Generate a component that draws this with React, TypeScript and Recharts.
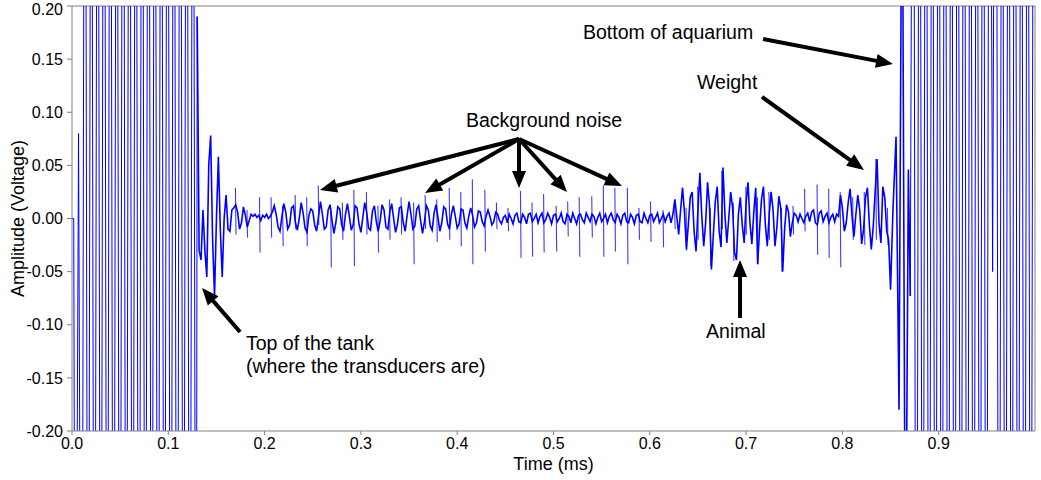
import React from 'react';
import { LineChart, Line, XAxis, YAxis, ReferenceLine, ReferenceDot } from 'recharts';

// axis ticks
const xTicks = [0, 0.1, 0.2, 0.3, 0.4, 0.5, 0.6, 0.7, 0.8, 0.9];
const yTicks = [-0.2, -0.15, -0.1, -0.05, 0, 0.05, 0.1, 0.15, 0.2];

// quiet start before the transmit pulse
const leadTimes = [0, 0.0018];
const leadValues = [0, 0];

// transmit pulse (clipped), sampled every 0.0033 ms from 0.0035 ms
const burstTx = [
  -0.62, 0.08, -0.7, 0.74, -0.72, 0.7, -0.76, 0.72, -0.7, 0.75,
  -0.7, 0.72, -0.74, 0.7, -0.72, 0.76, -0.7, 0.74, -0.72, 0.7,
  -0.74, 0.72, -0.7, 0.75, -0.72, 0.7, -0.74, 0.72, -0.7, 0.74,
  -0.72, 0.7, -0.74, 0.72, -0.7, 0.74, -0.72, 0.7, -0.74,
];

// the echo trace, sampled every 0.002 ms
const echoTopTank = [ // from 0.130 ms
  0.19, -0.03, -0.039, 0.008, -0.03, -0.055, 0.05, 0.078, -0.02, -0.073,
  0.0, 0.058, -0.01, -0.055, 0.0, 0.022, -0.01, -0.012, 0.008, 0.01,
];
const noiseEarly = [ // from 0.170 ms
  0.013, 0.006, -0.01, -0.004, 0.011, 0.003, -0.008, -0.002, 0.004, 0.002,
  0.004, 0.001, 0.003, -0.002, 0.003, 0.001, 0.004, 0.0, 0.002, 0.006,
  0.012, 0.004, -0.008, -0.012, 0.002, 0.014, 0.006, -0.01, -0.006, 0.01,
  0.012, -0.004, -0.011, 0.0, 0.015, 0.005, -0.009, -0.013, 0.003, 0.009,
  0.007, -0.006, -0.012, 0.002, 0.016, 0.004, -0.01, -0.008, 0.008, 0.013,
  -0.002, -0.014, -0.004, 0.011, 0.009, -0.006, -0.012, 0.004, 0.014, 0.002,
  -0.011, -0.006, 0.012, 0.01, -0.005, -0.013, 0.001, 0.015, 0.006, -0.009,
  -0.011, 0.007, 0.012, -0.003, -0.012, -0.002, 0.013, 0.008, -0.008, -0.01,
  0.006, 0.014, 0.0, -0.013, -0.005, 0.01, 0.011, -0.004, -0.012, 0.003,
  0.016, 0.004, -0.01, -0.007, 0.009, 0.012, -0.002, -0.014, -0.003, 0.012,
  0.008, -0.007, -0.011, 0.005, 0.013, 0.001, -0.012, -0.004, 0.011, 0.009,
  -0.005, -0.01, 0.004, 0.012, 0.002, -0.009, -0.005, 0.009, 0.008, -0.004,
  -0.009, 0.002, 0.01, 0.003, -0.008, -0.004, 0.007, 0.006, -0.003, -0.007,
  0.002, 0.008, 0.002, -0.006, -0.003, 0.006, 0.004, -0.002, -0.005, 0.001,
];
const noiseQuiet = [ // from 0.450 ms
  0.003, -0.004, 0.004, 0.0, -0.005, 0.003, 0.005, -0.003, -0.004, 0.004,
  0.001, -0.005, 0.004, 0.005, -0.003, 0.0, 0.004, -0.004, 0.002, 0.005,
  -0.004, -0.001, 0.005, 0.001, -0.005, 0.003, 0.004, -0.003, 0.0, 0.005,
  -0.003, -0.005, 0.004, 0.002, -0.004, 0.005, 0.0, -0.005, 0.003, 0.004,
  -0.001, -0.004, 0.005, 0.001, -0.003, 0.004, 0.002, -0.005, 0.001, 0.005,
  -0.003, 0.0, 0.004, -0.004, 0.002, 0.005, -0.001, -0.004, 0.004, 0.001,
  -0.005, 0.003, 0.005, -0.003, -0.004, 0.004, 0.001, -0.005, 0.003, 0.004,
  -0.003, -0.004, 0.005, 0.0, -0.004, 0.003, 0.004, -0.003, 0.001, 0.005,
  -0.004, 0.0, 0.004, -0.003, 0.002, 0.005, -0.004,
];
const echoAnimal = [ // from 0.624 ms
  0.004, 0.018, 0.002, -0.015, 0.008, 0.029, 0.006, -0.029, -0.006, 0.02,
  0.025, -0.012, -0.031, 0.008, 0.043, 0.002, -0.026, -0.004, 0.034, 0.012,
  -0.048, -0.015, 0.016, 0.03, -0.012, -0.027, 0.048, 0.004, -0.023, 0.0,
  0.025, 0.01, -0.032, -0.039, 0.004, 0.02, -0.006, -0.023, 0.015, 0.034,
  -0.004, -0.024, 0.006, 0.029, -0.043, -0.01, 0.018, 0.03, -0.006, -0.026,
  0.004, 0.025, 0.008, -0.026, -0.008, 0.021, 0.01, -0.05, -0.01, 0.013,
  0.006, -0.017, -0.004, 0.005,
];
const noiseLate = [ // from 0.752 ms
  0.003, -0.003, 0.004, 0.0, -0.004, 0.002, 0.005, -0.003, 0.006, 0.008,
  -0.004, -0.006, 0.005, 0.007, -0.003, 0.002, 0.005, -0.004, 0.001, 0.004,
  -0.003, 0.004, 0.002,
];
const echoWeight = [ // from 0.798 ms
  0.022, 0.01, -0.012, -0.004, 0.015, 0.028, 0.002, -0.017, 0.004, 0.022,
  0.008, -0.024, -0.01, 0.02, 0.029, -0.006, -0.029, -0.008, 0.025, 0.056,
  -0.004, -0.023, 0.03, 0.02, -0.012, -0.02, -0.067,
];

// onset of the bottom echo
const ringTimes = [0.8525, 0.8557, 0.8588, 0.862, 0.8655, 0.8685, 0.8705];
const ringValues = [0.008, 0.077, -0.18, 0.4, -0.4, 0.046, -0.073];

// bottom echo (clipped), every 0.0033 ms from 0.8735 ms
const burstBottom = [
  0.7, -0.74, 0.72, -0.7, 0.74, -0.72, 0.7, -0.74, 0.72, -0.7,
  0.74, -0.72, 0.7, -0.74, 0.72, -0.7, 0.74, -0.72, 0.7, -0.74,
  0.72, -0.7, 0.74, -0.72, 0.7, -0.05, 0.74, -0.72, 0.7, -0.74,
  0.72, -0.7, 0.74, -0.72, 0.7, -0.74, 0.72, -0.7, 0.74,
];

// periodic interference spikes ("background noise")
const spikeTimes = [
  0.170, 0.182, 0.195, 0.207, 0.219, 0.232, 0.244, 0.256, 0.269, 0.281,
  0.293, 0.306, 0.318, 0.330, 0.342, 0.355, 0.367, 0.379, 0.392, 0.404,
  0.416, 0.429, 0.441, 0.453, 0.466, 0.478, 0.490, 0.503, 0.515, 0.527,
  0.540, 0.552, 0.564, 0.577, 0.589, 0.601, 0.614, 0.626, 0.638, 0.650,
  0.663, 0.675, 0.687, 0.700, 0.712, 0.724, 0.737, 0.749, 0.761, 0.774,
  0.786, 0.798, 0.811, 0.823, 0.835, 0.847,
];
const spikeUp = [
  0.029, 0.008, 0.02, 0.02, 0.012, 0.022, 0.02, 0.031, 0.01, 0.015,
  0.027, 0.025, 0.012, 0.018, 0.02, 0.015, 0.022, 0.018, 0.029, 0.025,
  0.037, 0.027, 0.015, 0.01, 0.026, 0.015, 0.023, 0.012, 0.016, 0.02,
  0.021, 0.031, 0.029, 0.029, 0.01, 0.016, 0.008, 0.012, 0.01, 0.03,
  0.01, 0.045, 0.015, 0.03, 0.02, 0.025, 0.01, 0.012, 0.028, 0.032,
  0.028, 0.025, 0.02, 0.025, 0.056, 0.01,
];
const spikeDown = [
  -0.015, -0.018, -0.032, -0.018, -0.026, -0.01, -0.026, -0.006, -0.046, -0.02,
  -0.045, -0.015, -0.032, -0.02, -0.015, -0.043, -0.01, -0.022, -0.02, -0.026,
  -0.043, -0.031, -0.01, -0.012, -0.037, -0.036, -0.032, -0.031, -0.017, -0.036,
  -0.018, -0.036, -0.031, -0.043, -0.02, -0.022, -0.027, -0.01, -0.03, -0.02,
  -0.045, -0.01, -0.04, -0.015, -0.043, -0.02, -0.05, -0.015, -0.012, -0.034,
  -0.037, -0.046, -0.02, -0.025, -0.02, -0.025,
];

// annotations: text [t, v] of left/baseline, arrows [t1, v1, t2, v2]
const notes = [
  { text: 'Bottom of aquarium', t: 0.5306, v: 0.1689 },
  { text: 'Weight', t: 0.649, v: 0.1219 },
  { text: 'Background noise', t: 0.4091, v: 0.0861 },
  { text: 'Top of the tank', t: 0.1807, v: -0.1238 },
  { text: '(where the transducers are)', t: 0.1807, v: -0.1454 },
  { text: 'Animal', t: 0.6584, v: -0.1124 },
];
const arrows = [
  [0.7176, 0.1689, 0.8525, 0.1454],
  [0.7165, 0.1144, 0.8224, 0.0457],
  [0.4642, 0.0748, 0.2575, 0.0268],
  [0.4642, 0.0748, 0.3666, 0.024],
  [0.4642, 0.0748, 0.4642, 0.0287],
  [0.4642, 0.0748, 0.514, 0.0249],
  [0.4642, 0.0748, 0.5711, 0.0306],
  [0.1745, -0.1068, 0.135, -0.0654],
  [0.6937, -0.0936, 0.6937, -0.0391],
];

const sampled = (start: number, step: number, values: number[]) =>
  values.map((v, i) => ({ t: +(start + i * step).toFixed(5), v }));

const echoData = [
  ...sampled(0.13, 0.002, echoTopTank),
  ...sampled(0.17, 0.002, noiseEarly),
  ...sampled(0.45, 0.002, noiseQuiet),
  ...sampled(0.624, 0.002, echoAnimal),
  ...sampled(0.752, 0.002, noiseLate),
  ...sampled(0.798, 0.002, echoWeight),
  ...ringTimes.map((t, i) => ({ t, v: ringValues[i] })),
];

const txData = [
  ...leadTimes.map((t, i) => ({ t, v: leadValues[i] })),
  ...sampled(0.0035, 0.0033, burstTx),
  echoData[0],
];

const bottomData = [echoData[echoData.length - 1], ...sampled(0.8735, 0.0033, burstBottom)];

// each spike is a short separate stroke (null breaks the line between them)
const spikeData = spikeTimes.flatMap((t, i) => [
  { t: t - 0.0003, v: spikeUp[i] },
  { t: t + 0.0003, v: spikeDown[i] },
  { t: t + 0.0005, v: null },
]);

const AXIS = '#808080';
const BLUE = '#0000ff';

const arrowShape = (p: any) => {
  const { x1, y1, x2, y2 } = p;
  const dx = x2 - x1;
  const dy = y2 - y1;
  const len = Math.hypot(dx, dy) || 1;
  const ux = dx / len;
  const uy = dy / len;
  const L = 17;
  const W = 7;
  const bx = x2 - ux * L;
  const by = y2 - uy * L;
  return (
    <g>
      <line x1={x1} y1={y1} x2={bx + ux * 3} y2={by + uy * 3} stroke="#000" strokeWidth={4} />
      <polygon
        points={`${x2},${y2} ${bx - uy * W},${by + ux * W} ${bx + uy * W},${by - ux * W}`}
        fill="#000"
      />
    </g>
  );
};

export default function App() {
  return (
    <div
      style={{
        position: 'absolute',
        left: 0,
        top: 0,
        width: 1041,
        height: 480,
        background: '#fff',
        fontFamily: '"Liberation Sans", Arial, sans-serif',
      }}
    >
      <LineChart width={1041} height={480} margin={{ top: 6, right: 6, bottom: 0, left: 0 }}>
        <XAxis
          type="number"
          dataKey="t"
          domain={[0, 1]}
          ticks={xTicks}
          tickFormatter={(v: number) => v.toFixed(1)}
          height={49}
          tickSize={4}
          tickMargin={3}
          stroke={AXIS}
          tick={{ fontSize: 16, fill: '#000' }}
          label={{ value: 'Time (ms)', position: 'insideBottom', offset: 10, style: { fontSize: 18, fill: '#000' } }}
        />
        <YAxis
          type="number"
          domain={[-0.2, 0.2]}
          allowDataOverflow
          ticks={yTicks}
          tickFormatter={(v: number) => v.toFixed(2)}
          width={72}
          tickSize={5}
          tickMargin={4}
          stroke={AXIS}
          tick={{ fontSize: 16, fill: '#000' }}
          label={{
            value: 'Amplitude (Voltage)',
            angle: -90,
            position: 'insideLeft',
            offset: 18,
            style: { textAnchor: 'middle', fontSize: 18, fill: '#000' },
          }}
        />
        <ReferenceLine y={0.2} stroke={AXIS} ifOverflow="visible" />
        <ReferenceLine x={1} stroke={AXIS} ifOverflow="visible" />
        <Line data={txData} type="linear" dataKey="v" stroke={BLUE} strokeWidth={1} dot={false} isAnimationActive={false} />
        <Line data={bottomData} type="linear" dataKey="v" stroke={BLUE} strokeWidth={1} dot={false} isAnimationActive={false} />
        <Line data={spikeData} type="linear" dataKey="v" stroke="#3a3aff" strokeWidth={1.1} dot={false} isAnimationActive={false} />
        <Line data={echoData} type="linear" dataKey="v" stroke={BLUE} strokeWidth={1.6} dot={false} isAnimationActive={false} />
        {arrows.map((a, i) => (
          <ReferenceLine
            key={`arrow-${i}`}
            segment={[{ x: a[0], y: a[1] }, { x: a[2], y: a[3] }]}
            ifOverflow="visible"
            shape={arrowShape}
          />
        ))}
        {notes.map((n) => (
          <ReferenceDot
            key={n.text}
            x={n.t}
            y={n.v}
            r={0}
            ifOverflow="visible"
            shape={(p: any) => (
              <text x={p.cx} y={p.cy} fontSize={19.5} fill="#000">
                {n.text}
              </text>
            )}
          />
        ))}
      </LineChart>
    </div>
  );
}
